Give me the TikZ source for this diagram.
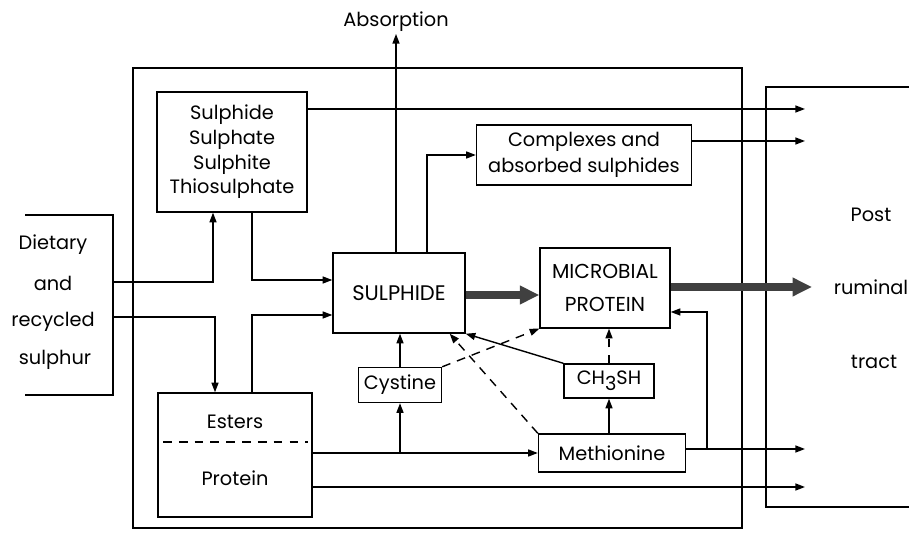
\documentclass[tikz,border=0pt]{standalone}
\usepackage{fontspec}
\setmainfont{Poppins}
\usetikzlibrary{arrows.meta}

\tikzset{% pixel grid of the scan
  box/.style ={draw=black, line width=0.8pt, inner sep=2pt, align=center,
    font=\fontsize{11}{14}\selectfont},
  lbl/.style ={inner sep=1pt, font=\fontsize{11}{14}\selectfont},
  arr/.style ={line width=0.8pt, -{Triangle[length=5.5pt,width=4pt]}},
  bigarr/.style={line width=4pt, draw=black!75, fill=black!75,
    -{Triangle[length=11pt,width=10pt]}},
  dsh/.style ={dash pattern=on 5pt off 4pt},
}

\begin{document}
\begin{tikzpicture}[x=0.02cm, y=-0.02cm]
  \useasboundingbox (0,0) rectangle (909,536);
  % rumen and the two brackets
  \draw[line width=1.3pt] (133,68) rectangle (742,528);
  \draw[line width=1pt] (25,215) -| (113,395) -- (25,395);
  \draw[line width=1pt] (909,87) -| (766,507) -- (909,507);

  \node[box, minimum width=3cm, minimum height=2.4cm] (sulph) at (232,152)
    {Sulphide\\Sulphate\\Sulphite\\Thiosulphate};
  \node[box, minimum width=2.64cm, minimum height=1.6cm,
    font=\fontsize{12}{14}\selectfont] (sulphide) at (399,293) {SULPHIDE};
  \node[box, minimum width=2.6cm, minimum height=1.6cm,
    font=\fontsize{11.5}{19}\selectfont] (microbial) at (605,288) {MICROBIAL\\PROTEIN};
  \node[box, minimum width=4.3cm, minimum height=1.2cm,
    font=\fontsize{11}{15}\selectfont] (complexes) at (584,155)
    {Complexes and\\absorbed sulphides};
  \node[box, minimum width=1.66cm, minimum height=0.7cm] (cystine) at (400,385) {Cystine};
  \node[box, minimum width=1.8cm, minimum height=0.68cm] (ch3sh) at (609,381)
    {CH\raisebox{-0.55ex}{3}SH};
  \node[box, minimum width=2.94cm, minimum height=0.76cm] (methionine) at (612,453) {Methionine};
  \node[box, minimum width=3.08cm, minimum height=2.48cm] (esters) at (235,455) {};
  \node[lbl] (esterstxt) at (235,422) {Esters};
  \node[lbl] (protein) at (235,478) {Protein};
  \draw[dsh, line width=0.8pt] (163,442) -- (308,442);

  \node[lbl] (absorb) at (396,22) {Absorption};
  \node[lbl] (diet1) at (53,245) {Dietary};
  \node[lbl] (diet2) at (53,283) {and};
  \node[lbl] (diet3) at (53,322) {recycled};
  \node[lbl] (diet4) at (55,360) {sulphur};
  \node[lbl] (post1) at (871,215) {Post};
  \node[lbl] (post2) at (871,287) {ruminal};
  \node[lbl] (post3) at (874,362) {tract};

  % free ends
  \coordinate (d1) at (113,282);
  \coordinate (d2) at (113,317);
  \coordinate (o1) at (805,109);
  \coordinate (o2) at (805,141);
  \coordinate (o3) at (812,287);
  \coordinate (o4) at (805,449);
  \coordinate (o5) at (805,487);
  \coordinate (br) at (707,450);

  \draw[arr] (d1) -| ([xshift=-0.38cm]sulph.south);
  \draw[arr] (d2) -| ([xshift=-0.4cm]esters.north);
  \draw[arr] ([xshift=0.4cm]sulph.south) |- ([yshift=0.26cm]sulphide.west);
  \draw[arr] ([xshift=0.34cm]esters.north) |- ([yshift=-0.44cm]sulphide.west);
  \draw[arr] (absorb |- sulphide.north) -- (absorb.south);
  \draw[arr] ([xshift=0.56cm]sulphide.north) |- (complexes.west);
  \draw[arr] (sulph.east |- o1) -- (o1);
  \draw[arr] (complexes.east |- o2) -- (o2);
  \draw[bigarr] ([yshift=-0.04cm]sulphide.east) -- ([yshift=-0.04cm]sulphide.east -| microbial.west);
  \draw[bigarr] (microbial.east |- o3) -- (o3);
  \draw[arr] (esters.east |- methionine) -- (methionine.west);
  \draw[arr] (cystine |- methionine.west) -- (cystine.south);
  \draw[arr] (cystine.north) -- (cystine.north |- sulphide.south);
  \draw[arr] (esters.east |- o5) -- (o5);
  \draw[arr] (methionine.east |- o4) -- (o4);
  \draw[arr] (br) |- ([yshift=-0.48cm]microbial.east);
  \draw[arr] (ch3sh |- methionine.north) -- (ch3sh.south);
  \draw[arr, dsh] (ch3sh.north) -- (ch3sh.north |- microbial.south);
  \draw[arr] (ch3sh.north west) -- (sulphide.south east);
  \draw[arr, dsh] (cystine.north east) -- (microbial.south west);
  \draw[arr, dsh] (methionine.north west) -- ([xshift=-0.32cm]sulphide.south east);
\end{tikzpicture}
\end{document}
